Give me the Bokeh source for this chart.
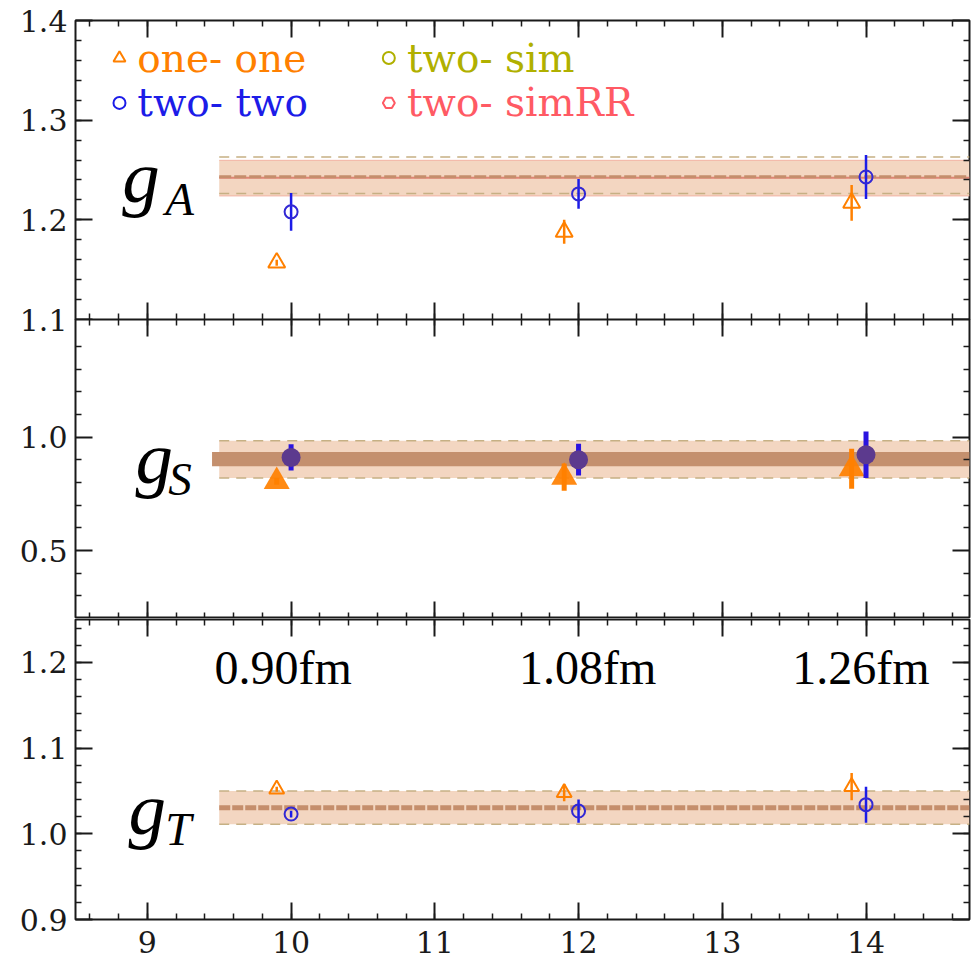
import numpy as np
from bokeh.plotting import figure
from bokeh.layouts import column
from bokeh.models import Range1d, FixedTicker, LinearAxis, Label, CustomJSTickFormatter
from bokeh.embed import file_html
from bokeh.resources import INLINE

# ---------------- data ----------------
x_one = [9.9, 11.9, 13.9]          # one-one points (slightly shifted left)
x_two = [10.0, 12.0, 14.0]         # two-two points

gA_one = [1.157, 1.188, 1.217]
gA_one_err = [0.003, 0.012, 0.018]
gA_two = [1.208, 1.226, 1.243]
gA_two_err = [0.019, 0.015, 0.022]

gS_one = [0.805, 0.824, 0.861]
gS_one_err = [0.015, 0.060, 0.088]
gS_two = [0.911, 0.901, 0.923]
gS_two_err = [0.058, 0.070, 0.103]

gT_one = [1.052, 1.048, 1.055]
gT_one_err = [0.003, 0.010, 0.016]
gT_two = [1.023, 1.0265, 1.034]
gT_two_err = [0.004, 0.0135, 0.021]

# fit bands: [low, central, high]
gA_sim = [1.2263, 1.2433, 1.2630]
gA_simRR = [1.2240, 1.2423, 1.2597]
gS_sim = [0.820, 0.903, 0.985]
gS_simRR = [0.872, 0.903, 0.935]
gT_sim = [1.011, 1.0304, 1.050]
gT_simRR = [1.011, 1.0304, 1.050]
fit_x = [9.5, 14.72]
fit_x_inner = [9.45, 14.72]

x_ticks = [9, 10, 11, 12, 13, 14]
spacing_labels = ["0.90fm", "1.08fm", "1.26fm"]
legend_labels = ["one- one", "two- two", "two- sim", "two- simRR"]

# ---------------- style ----------------
ORANGE = "#ff8000"
BLUE = "#1c1ce8"
OLIVE = "#b0b000"
RED = "#ff5a64"
PEACH = "#f3d6c1"
DARKBAND = "#c4906e"
EDGE = "#c6b084"
CENTER = "#c58e6c"
INK = "#1a1a1a"
SERIF = "DejaVu Serif"

XR = (8.5, 14.72)
x_minor = list(np.round(np.arange(8.6, 14.75, 0.2), 3))

HIDE = CustomJSTickFormatter(code="return ''")
FMT1 = CustomJSTickFormatter(code="return tick.toFixed(1)")


def style_axis(ax, show_labels, fs="30px", standoff=8, fmt=None):
    ax.axis_line_color = None
    ax.major_tick_in = 17
    ax.major_tick_out = 0
    ax.minor_tick_in = 6
    ax.minor_tick_out = 0
    ax.major_tick_line_color = INK
    ax.major_tick_line_width = 2
    ax.minor_tick_line_color = INK
    ax.minor_tick_line_width = 1.5
    if show_labels:
        ax.major_label_text_font = SERIF
        ax.major_label_text_font_size = fs
        ax.major_label_text_color = INK
        ax.major_label_standoff = standoff
        if fmt is not None:
            ax.formatter = fmt
    else:
        ax.formatter = HIDE
        ax.major_label_text_font_size = "1px"
        ax.major_label_standoff = 0


def panel(height, yr, ymajor, yminor, top, bottom, xlabels):
    p = figure(width=971, height=height, x_range=Range1d(*XR), y_range=Range1d(*yr),
               output_backend="svg", toolbar_location=None,
               x_axis_type=None, y_axis_type=None,
               min_border_left=75, min_border_right=2,
               min_border_top=top, min_border_bottom=bottom)
    p.outline_line_color = INK
    p.outline_line_width = 2
    p.background_fill_color = "white"
    p.border_fill_color = "white"
    yt = FixedTicker(ticks=ymajor, minor_ticks=yminor)
    xt = FixedTicker(ticks=x_ticks, minor_ticks=x_minor)
    left = LinearAxis(ticker=yt)
    style_axis(left, True, "30px", 8, FMT1)
    p.add_layout(left, "left")
    right = LinearAxis(ticker=yt)
    style_axis(right, False)
    p.add_layout(right, "right")
    above = LinearAxis(ticker=xt)
    style_axis(above, False)
    p.add_layout(above, "above")
    below = LinearAxis(ticker=xt)
    style_axis(below, xlabels, "30px", 11)
    p.add_layout(below, "below")
    return p


def errbars(p, xs, ys, es, color, width):
    ys = np.array(ys)
    es = np.array(es)
    p.segment(x0=xs, y0=ys - es, x1=xs, y1=ys + es, line_color=color, line_width=width)


def glabel(p, x, y, sub, xs, ys):
    p.add_layout(Label(x=x, y=y, text="g", text_font="Liberation Serif",
                       text_font_style="italic", text_font_size="75px",
                       text_color="black", text_baseline="alphabetic"))
    p.add_layout(Label(x=xs, y=ys, text=sub, text_font="Liberation Serif",
                       text_font_style="italic", text_font_size="47px",
                       text_color="black", text_baseline="alphabetic"))


# ---------------- panel 1: gA ----------------
# extra 20px border below so that the "1.1" label straddling the seam is not cut;
# the next panel overlaps that strip (negative margin, transparent border)
p1 = panel(339, (1.1, 1.4), [1.1, 1.2, 1.3, 1.4],
           list(np.round(np.arange(1.12, 1.4, 0.02), 3)), 20, 20, False)
p1.margin = (0, 0, -20, 0)
p1.border_fill_alpha = 0
p1.varea(x=fit_x, y1=[gA_simRR[0]] * 2, y2=[gA_simRR[2]] * 2, fill_color=PEACH)
p1.line(fit_x, [gA_simRR[0]] * 2, line_color="#f2b4a4", line_width=1)
p1.line(fit_x, [gA_simRR[2]] * 2, line_color="#f2b4a4", line_width=1)
p1.line(fit_x, [gA_sim[0]] * 2, line_color=EDGE, line_width=1.5, line_dash="10 7")
p1.line(fit_x, [gA_sim[2]] * 2, line_color=EDGE, line_width=1.5, line_dash="10 7")
p1.line(fit_x, [gA_simRR[1]] * 2, line_color="#e08576", line_width=2)
p1.line(fit_x, [gA_sim[1]] * 2, line_color=CENTER, line_width=3, line_dash="12 3")
errbars(p1, x_one, gA_one, gA_one_err, ORANGE, 2.5)
p1.scatter(x_one, gA_one, marker="triangle", size=17, fill_color=None,
           line_color=ORANGE, line_width=2)
errbars(p1, x_two, gA_two, gA_two_err, BLUE, 2.5)
p1.scatter(x_two, gA_two, marker="circle", size=13, fill_color=None,
           line_color="#3228d4", line_width=2)
glabel(p1, 8.826, 1.243, "A", 9.125, 1.221)

# legend (manual, coloured texts)
leg_colors = [ORANGE, BLUE, OLIVE, RED]
leg_markers = ["triangle", "circle", "circle", "hex"]
leg_mx = [8.806, 8.806, 10.68, 10.68]
leg_my = [1.3623, 1.3173, 1.3623, 1.3173]
leg_tx = [8.93, 8.93, 10.806, 10.806]
leg_ty = [1.3615, 1.3175, 1.3615, 1.3175]
for lab, c, m, mx, my, tx, ty in zip(legend_labels, leg_colors, leg_markers,
                                     leg_mx, leg_my, leg_tx, leg_ty):
    p1.scatter([mx], [my], marker=m, size=12, fill_color=None, line_color=c, line_width=2)
    p1.add_layout(Label(x=tx, y=ty, text=lab, text_font=SERIF, text_font_size="39px",
                        text_color=c, text_baseline="alphabetic"))

# ---------------- panel 2: gS ----------------
p2 = panel(299, (0.2, 1.52), [0.5, 1.0],
           [0.3, 0.4, 0.6, 0.7, 0.8, 0.9, 1.1, 1.2, 1.3, 1.4], 0, 0, False)
p2.border_fill_alpha = 0
p2.varea(x=fit_x, y1=[gS_sim[0]] * 2, y2=[gS_sim[2]] * 2, fill_color=PEACH)
p2.varea(x=fit_x_inner, y1=[gS_simRR[0]] * 2, y2=[gS_simRR[2]] * 2, fill_color=DARKBAND)
p2.line(fit_x, [gS_sim[0]] * 2, line_color=EDGE, line_width=1.5, line_dash="10 7")
p2.line(fit_x, [gS_sim[2]] * 2, line_color=EDGE, line_width=1.5, line_dash="10 7")
errbars(p2, x_one, gS_one, gS_one_err, ORANGE, 5)
p2.scatter(x_one, gS_one, marker="triangle", size=26, fill_color=ORANGE,
           fill_alpha=0.92, line_color=None)
errbars(p2, x_two, gS_two, gS_two_err, "#2a14e0", 5)
p2.scatter(x_two, gS_two, marker="circle", size=19, fill_color="#5c3a8e", line_color=None)
glabel(p2, 8.917, 0.911, "S", 9.146, 0.814)

# ---------------- panel 3: gT ----------------
p3 = panel(347, (0.9, 1.25), [0.9, 1.0, 1.1, 1.2],
           list(np.round(np.arange(0.92, 1.25, 0.02), 3)), 1, 46, True)
p3.varea(x=fit_x, y1=[gT_simRR[0]] * 2, y2=[gT_simRR[2]] * 2, fill_color=PEACH)
p3.line(fit_x, [gT_sim[0]] * 2, line_color=EDGE, line_width=1.5, line_dash="10 7")
p3.line(fit_x, [gT_sim[2]] * 2, line_color=EDGE, line_width=1.5, line_dash="10 7")
p3.line(fit_x, [gT_sim[1]] * 2, line_color=CENTER, line_width=5, line_dash="11 2")
errbars(p3, x_one, gT_one, gT_one_err, ORANGE, 2.5)
p3.scatter(x_one, gT_one, marker="triangle", size=15, fill_color=None,
           line_color=ORANGE, line_width=2)
errbars(p3, x_two, gT_two, gT_two_err, BLUE, 2.5)
p3.scatter(x_two, gT_two, marker="circle", size=13, fill_color=None,
           line_color="#3228d4", line_width=2)
glabel(p3, 8.868, 1.030, "T", 9.125, 1.0055)
for lab, xv, off in zip(spacing_labels, x_two, [-8, 9, -5]):
    p3.add_layout(Label(x=xv, y=1.194, x_offset=off, text=lab, text_font="Liberation Serif",
                        text_font_size="48px", text_color="black", text_align="center",
                        text_baseline="alphabetic"))

layout = column(p1, p2, p3, spacing=0)
open("out.html", "w").write(file_html(layout, INLINE))
